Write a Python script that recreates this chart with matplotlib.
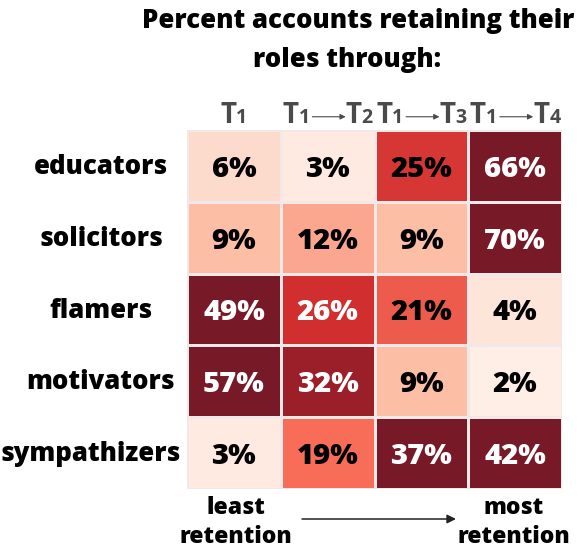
import numpy as np
import matplotlib
matplotlib.use("Agg")
import matplotlib.pyplot as plt
from matplotlib.colors import LinearSegmentedColormap
from matplotlib.offsetbox import TextArea, HPacker, DrawingArea, AnnotationBbox
from matplotlib.patches import FancyArrowPatch

# ---------------- data ----------------
roles = ["educators", "solicitors", "flamers", "motivators", "sympathizers"]
periods = ["1", "2", "3", "4"]          # T1, T1->T2, T1->T3, T1->T4
educators = [6, 3, 25, 66]
solicitors = [9, 12, 9, 70]
flamers = [49, 26, 21, 4]
motivators = [57, 32, 9, 2]
sympathizers = [3, 19, 37, 42]
title = "Percent accounts retaining their\nroles through:"
low_label = "least\nretention"
high_label = "most\nretention"

values = np.array([educators, solicitors, flamers, motivators, sympathizers], dtype=float)

# ---------------- style ----------------
FONT = ["Open Sans", "DejaVu Sans"]
WT = 800
plt.rcParams["font.family"] = FONT

W, H = 582, 549
PT = 72 / 100  # points per pixel
fig = plt.figure(figsize=(W / 100, H / 100), dpi=100)
fig.patch.set_facecolor("white")


def fy(py):
    return 1 - py / H


# heatmap axes
TOP, BOT, LEFT, RIGHT = 130, 489, 187, 562
ax = fig.add_axes([LEFT / W, fy(BOT), (RIGHT - LEFT) / W, (BOT - TOP) / H])

anchors = [(0, "#fff5f0"), (3, "#feeae1"), (6, "#fddbcc"), (9, "#fcbea5"),
           (19, "#f76e58"), (26, "#d02e2f"), (32, "#9b1f28"), (36, "#771926")]
vmax = anchors[-1][0]
cmap = LinearSegmentedColormap.from_list(
    "ret", [(v / vmax, c) for v, c in anchors])
cmap.set_over(anchors[-1][1])

ax.pcolormesh(np.arange(len(periods) + 1), np.arange(len(roles) + 1), values,
              cmap=cmap, vmin=0, vmax=vmax, edgecolor="#f3e8e8", linewidth=0.8)
ax.set_xlim(0, len(periods))
ax.set_ylim(len(roles), 0)
ax.set_axis_off()

for i in range(len(roles)):
    for j in range(len(periods)):
        v = values[i, j]
        ax.annotate(f"{v:.0f}%", (j + 0.5, i + 0.5), xytext=(0, -11 * PT),
                    textcoords="offset points", ha="center", va="baseline",
                    fontsize=21, fontweight=WT,
                    color="white" if v >= 26 else "black")

# row labels (centered in the left margin)
renderer = fig.canvas.get_renderer()
row_h = (BOT - TOP) / len(roles)
for i, r in enumerate(roles):
    base = TOP + (i + 0.5) * row_h + 8
    t = fig.text(101 / W, fy(base), r, ha="center", va="baseline",
                 fontsize=18.5, fontweight=WT, color="black")
    bb = t.get_window_extent(renderer)
    if bb.x1 > LEFT - 6:
        t.set_ha("left")
        t.set_x(1 / W)

# title
lines = title.split("\n")
fig.text(358 / W, fy(28), lines[0], ha="center", va="baseline",
         fontsize=18.5, fontweight=WT, color="black")
fig.text(347 / W, fy(67), lines[1], ha="center", va="baseline",
         fontsize=18.5, fontweight=WT, color="black")

# column headers: T1, T1 -> Tk
HC = "#4a4a4a"
big = dict(fontsize=20, fontweight="bold", color=HC, family=FONT)
small = dict(fontsize=14, fontweight="bold", color=HC, family=FONT)


def arrow_area():
    da = DrawingArea(26, 10, 0, 0)
    arr = FancyArrowPatch((2, 4.5), (26, 4.5), arrowstyle="-|>",
                          mutation_scale=8, color=HC, lw=0.8,
                          shrinkA=0, shrinkB=0)
    da.add_artist(arr)
    return da


for j, p in enumerate(periods):
    kids = [TextArea("T", textprops=big), TextArea(periods[0], textprops=small)]
    if j > 0:
        kids += [arrow_area(), TextArea("T", textprops=big),
                 TextArea(p, textprops=small)]
    box = HPacker(children=kids, align="baseline", pad=0, sep=0)
    ab = AnnotationBbox(box, (j + 0.5, 1.0),
                        xycoords=("data", "axes fraction"),
                        xybox=(0, 0), boxcoords="offset points",
                        box_alignment=(0.5, 0), frameon=False, pad=0)
    ax.add_artist(ab)

# bottom legend
for label, cx in [(low_label, 236), (high_label, 514)]:
    l1, l2 = label.split("\n")
    fig.text(cx / W, fy(514), l1, ha="center", va="baseline",
             fontsize=16.5, fontweight=WT, color="black")
    fig.text(cx / W, fy(543), l2, ha="center", va="baseline",
             fontsize=16.5, fontweight=WT, color="black")
fig.add_artist(FancyArrowPatch((302 / W, fy(519)), (456 / W, fy(519)),
                               transform=fig.transFigure, arrowstyle="-|>",
                               mutation_scale=13, color="#222222", lw=1.1,
                               shrinkA=0, shrinkB=0))

fig.savefig("out.png", dpi=100)
